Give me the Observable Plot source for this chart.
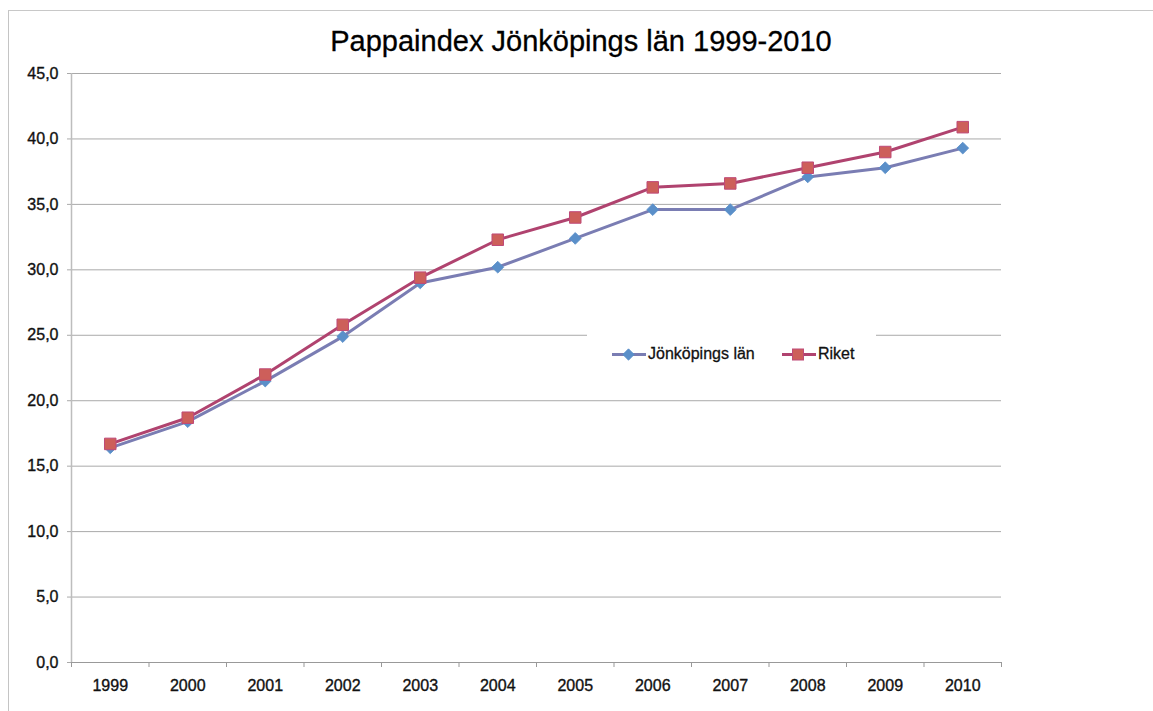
<!DOCTYPE html>
<html><head><meta charset="utf-8">
<script src="https://cdn.jsdelivr.net/npm/d3@7"></script>
<script src="https://cdn.jsdelivr.net/npm/@observablehq/plot@0.6"></script>
<style>
body{margin:0;background:#fff;font-family:"Liberation Sans",Arial,Helvetica,sans-serif;}
#wrap{position:relative;width:1153px;height:711px;overflow:hidden;background:#fff;}
#frame{position:absolute;left:8px;top:10px;width:1300px;height:900px;border-left:1.5px solid #c4c4c4;border-top:1.5px solid #c8c8c8;}
#title{position:absolute;left:0;width:1162px;top:26px;text-align:center;font-size:29px;line-height:30px;color:#000;-webkit-text-stroke:0.3px #000;}
#chart{position:absolute;left:0;top:60px;}
#chart text{stroke:#111;stroke-width:0.35px;}
#legend{position:absolute;left:587px;top:330px;width:289px;height:48px;background:#fff;}
.item{position:absolute;top:14px;height:20px;display:flex;align-items:center;font-size:16px;color:#111;-webkit-text-stroke:0.3px #111;}
.item svg{margin-right:2px;}
</style></head>
<body>
<div id="wrap">
  <div id="frame"></div>
  <div id="title">Pappaindex Jönköpings län 1999-2010</div>
  <div id="chart"></div>
  <div id="legend"></div>
</div>
<script>
const years = [1999, 2000, 2001, 2002, 2003, 2004, 2005, 2006, 2007, 2008, 2009, 2010];
const jonkoping = [16.4, 18.4, 21.5, 24.9, 29.0, 30.2, 32.4, 34.6, 34.6, 37.1, 37.8, 39.3];
const riket = [16.7, 18.7, 22.0, 25.8, 29.4, 32.3, 34.0, 36.3, 36.6, 37.8, 39.0, 40.9];
const yTicks = [0, 5, 10, 15, 20, 25, 30, 35, 40, 45];
const seriesNames = ["Jönköpings län", "Riket"];
const lineColors = ["#7a7db3", "#b0436f"];
const markerFill = ["#5a8fc9", "#cd5f5a"];
const markerStroke = ["#5a8fc9", "#bf4a78"];

const jRows = years.map((yr, i) => ({year: yr, value: jonkoping[i]}));
const rRows = years.map((yr, i) => ({year: yr, value: riket[i]}));
const bounds = [...years.map(y => y - 0.5), years[years.length - 1] + 0.5];
const fmt = d => d.toFixed(1).replace(".", ",");

const chart = Plot.plot({
  width: 1153, height: 651,
  marginLeft: 71, marginRight: 152, marginTop: 13, marginBottom: 49,
  style: {fontFamily: '"Liberation Sans",Arial,Helvetica,sans-serif', fontSize: "16px", color: "#111", background: "transparent", overflow: "visible"},
  x: {type: "linear", domain: [years[0] - 0.5, years[years.length - 1] + 0.5]},
  y: {domain: [0, 45]},
  marks: [
    Plot.gridY(yTicks, {stroke: "#a9a9a9", strokeOpacity: 1, strokeWidth: 1}),
    Plot.ruleX([years[0] - 0.5], {y1: 0, y2: 45, stroke: "#bdbdbd", strokeWidth: 1.5}),
    Plot.axisY(yTicks, {tickFormat: fmt, tickSize: 4, tickPadding: 9, stroke: "#aaa", label: null, fontSize: 16}),
    Plot.axisX(bounds, {tickSize: 5, tickFormat: () => "", stroke: "#999", label: null}),
    Plot.axisX(years, {tickSize: 0, tickPadding: 17, tickFormat: d => String(d), label: null, fontSize: 16}),
    Plot.ruleY([0], {stroke: "#999", strokeWidth: 1}),
    Plot.line(jRows, {x: "year", y: "value", stroke: lineColors[0], strokeWidth: 3}),
    Plot.dot(jRows, {x: "year", y: "value", symbol: "square", r: 4.7, rotate: 45, fill: markerFill[0], stroke: markerStroke[0], strokeWidth: 0.8}),
    Plot.line(rRows, {x: "year", y: "value", stroke: lineColors[1], strokeWidth: 3}),
    Plot.dot(rRows, {x: "year", y: "value", symbol: "square", r: 6.5, fill: markerFill[1], stroke: markerStroke[1], strokeWidth: 1})
  ]
});
document.getElementById("chart").appendChild(chart);

// legend
const legend = document.getElementById("legend");
const legendLeft = [25, 195];
seriesNames.forEach((name, i) => {
  const item = document.createElement("div");
  item.className = "item";
  item.style.left = legendLeft[i] + "px";
  const marker = i === 0
    ? `<rect x="12.5" y="6.5" width="8" height="8" transform="rotate(45 16.5 10.5)" fill="${markerFill[i]}" stroke="${markerStroke[i]}" stroke-width="0.8"/>`
    : `<rect x="10.5" y="5" width="11" height="11" fill="${markerFill[i]}" stroke="${markerStroke[i]}" stroke-width="1"/>`;
  item.innerHTML = `<svg width="34" height="21"><line x1="0" x2="34" y1="10.5" y2="10.5" stroke="${lineColors[i]}" stroke-width="3"/>${marker}</svg><span>${name}</span>`;
  legend.appendChild(item);
});
</script>
</body></html>
